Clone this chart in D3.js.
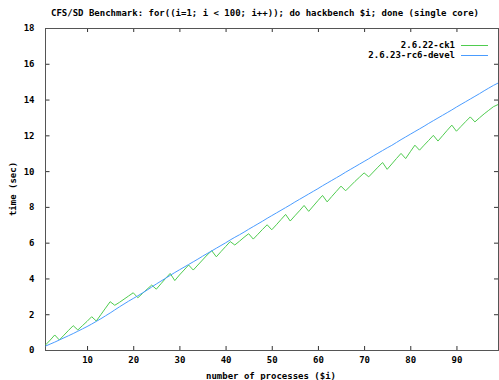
<!DOCTYPE html>
<html>
<head>
<meta charset="utf-8">
<script src="https://cdn.jsdelivr.net/npm/d3@7"></script>
<style>
  body { margin: 0; background: #fff; }
  svg text {
    font-family: "DejaVu Sans Mono", monospace;
    font-weight: bold;
    font-size: 9px;
    fill: #000;
  }
</style>
</head>
<body>
<svg id="chart" width="499" height="380"></svg>
<script>
const title = "CFS/SD Benchmark: for((i=1; i < 100; i++)); do hackbench $i; done (single core)";
const xLabel = "number of processes ($i)";
const yLabel = "time (sec)";

const seriesNames = ["2.6.22-ck1", "2.6.23-rc6-devel"];

// number of processes, 1..99
const processes = d3.range(1, 100);

const ck1Times = [
  0.28, 0.55, 0.84, 0.56, 0.83, 1.10, 1.36, 1.12, 1.36, 1.60,
  1.86, 1.62, 1.98, 2.34, 2.70, 2.50, 2.66, 2.84, 3.02, 3.20,
  2.92, 3.16, 3.40, 3.63, 3.40, 3.70, 4.00, 4.28, 3.88, 4.19,
  4.47, 4.75, 4.47, 4.75, 5.03, 5.31, 5.55, 5.21, 5.50, 5.78,
  6.06, 5.87, 6.08, 6.30, 6.50, 6.20, 6.47, 6.74, 7.00, 6.72,
  7.00, 7.29, 7.58, 7.21, 7.50, 7.78, 8.08, 7.75, 8.05, 8.35,
  8.64, 8.28, 8.58, 8.87, 9.16, 8.90, 9.16, 9.42, 9.66, 9.90,
  9.68, 9.95, 10.22, 10.48, 10.10, 10.40, 10.70, 10.99, 10.70, 11.08,
  11.45, 11.17, 11.45, 11.72, 12.00, 11.68, 11.98, 12.28, 12.57, 12.23,
  12.50, 12.77, 13.03, 12.75, 12.98, 13.20, 13.40, 13.60, 13.72
];

const develTimes = [
  0.22, 0.33, 0.44, 0.56, 0.68, 0.80, 0.92, 1.05, 1.18, 1.31,
  1.45, 1.60, 1.75, 1.91, 2.07, 2.24, 2.41, 2.57, 2.73, 2.88,
  3.03, 3.19, 3.35, 3.52, 3.69, 3.85, 4.01, 4.17, 4.33, 4.48,
  4.63, 4.78, 4.93, 5.08, 5.24, 5.39, 5.54, 5.69, 5.84, 5.99,
  6.15, 6.30, 6.44, 6.59, 6.75, 6.90, 7.05, 7.20, 7.36, 7.51,
  7.66, 7.81, 7.96, 8.11, 8.27, 8.42, 8.57, 8.72, 8.87, 9.02,
  9.18, 9.33, 9.48, 9.63, 9.78, 9.94, 10.09, 10.24, 10.39, 10.54,
  10.69, 10.85, 11.00, 11.15, 11.30, 11.44, 11.60, 11.76, 11.91, 12.06,
  12.21, 12.36, 12.51, 12.67, 12.82, 12.97, 13.12, 13.27, 13.42, 13.58,
  13.73, 13.88, 14.03, 14.18, 14.33, 14.49, 14.64, 14.79, 14.92
];

const xTicks = [10, 20, 30, 40, 50, 60, 70, 80, 90];
const yTicks = [0, 2, 4, 6, 8, 10, 12, 14, 16, 18];

const colors = ["#4fcc4f", "#4a9cff"];

const svg = d3.select("#chart"),
  margin = { top: 28, right: 1, bottom: 30, left: 45.5 },
  width = +svg.attr("width") - margin.left - margin.right,
  height = +svg.attr("height") - margin.top - margin.bottom,
  g = svg
    .append("g")
    .attr("transform", "translate(" + margin.left + "," + margin.top + ")");

const x = d3.scaleLinear().domain([1, 99]).range([0, width]),
  y = d3.scaleLinear().domain([0, 18]).range([height, 0]);

// ticks point inward, mirrored on all four sides
g.append("g")
  .attr("class", "axis x")
  .attr("transform", "translate(0," + height + ")")
  .call(d3.axisBottom(x).tickValues(xTicks).tickSizeInner(-4).tickSizeOuter(0).tickPadding(7));

g.append("g")
  .attr("class", "axis x2")
  .call(d3.axisTop(x).tickValues(xTicks).tickSizeInner(-4).tickSizeOuter(0).tickFormat(""));

g.append("g")
  .attr("class", "axis y")
  .call(d3.axisLeft(y).tickValues(yTicks).tickSizeInner(-4).tickSizeOuter(0).tickPadding(11));

g.append("g")
  .attr("class", "axis y2")
  .attr("transform", `translate(${width},0)`)
  .call(d3.axisRight(y).tickValues(yTicks).tickSizeInner(-4).tickSizeOuter(0).tickFormat(""));

g.selectAll(".axis .domain").remove();
g.selectAll(".axis line").attr("stroke", "#333");
g.selectAll(".axis text")
  .style("font-family", null)
  .style("font-size", null)
  .attr("fill", "#000");
svg.selectAll(".axis").attr("font-family", null).attr("font-size", null);

g.append("rect")
  .attr("width", width)
  .attr("height", height)
  .attr("fill", "none")
  .attr("stroke", "#555")
  .attr("shape-rendering", "crispEdges");

const line = d3
  .line()
  .x((d, i) => x(processes[i]))
  .y((d) => y(d));

[ck1Times, develTimes].forEach((series, k) => {
  g.append("path")
    .datum(series)
    .attr("fill", "none")
    .attr("stroke", colors[k])
    .attr("stroke-width", 1)
    .attr("d", line);
});

// titles
svg.append("text")
  .attr("x", 265)
  .attr("y", 16)
  .attr("text-anchor", "middle")
  .text(title);

svg.append("text")
  .attr("x", 271)
  .attr("y", 379)
  .attr("text-anchor", "middle")
  .text(xLabel);

svg.append("text")
  .attr("transform", "translate(16,189) rotate(-90)")
  .attr("text-anchor", "middle")
  .text(yLabel);

// key
const key = svg.append("g").attr("class", "key");
seriesNames.forEach((name, k) => {
  const ky = 45 + k * 10;
  key.append("text")
    .attr("x", 455)
    .attr("y", ky)
    .attr("dy", "0.35em")
    .attr("text-anchor", "end")
    .text(name);
  key.append("line")
    .attr("x1", 461)
    .attr("x2", 488)
    .attr("y1", ky + 0.5)
    .attr("y2", ky + 0.5)
    .attr("stroke", colors[k]);
});
</script>
</body>
</html>
